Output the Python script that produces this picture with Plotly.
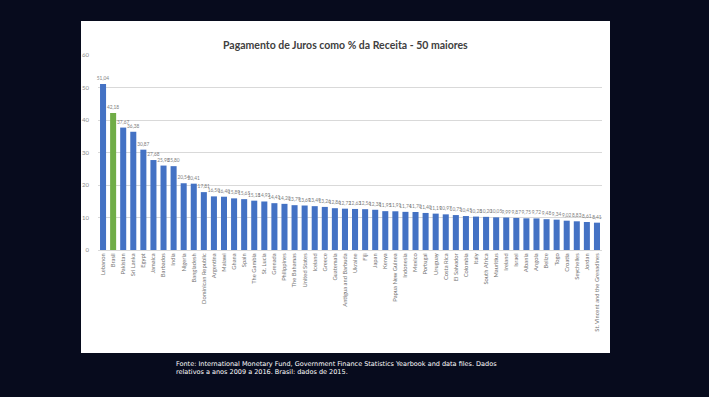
import plotly.graph_objects as go

countries = [
    "Lebanon", "Brasil", "Pakistan", "Sri Lanka", "Egypt", "Jamaica", "Barbados", "India",
    "Nigeria", "Bangladesh", "Dominican Republic", "Argentina", "Malawi", "Ghana", "Spain",
    "The Gambia", "St. Lucia", "Grenada", "Philippines", "The Bahamas", "United States",
    "Iceland", "Greece", "Guatemala", "Antigua and Barbuda", "Ukraine", "Fiji", "Japan",
    "Kenya", "Papua New Guinea", "Indonesia", "Mexico", "Portugal", "Uruguay", "Costa Rica",
    "El Salvador", "Colombia", "Italy", "South Africa", "Mauritius", "Ireland", "Israel",
    "Albania", "Angola", "Belize", "Togo", "Croatia", "Seychelles", "Jordan",
    "St. Vincent and the Grenadines",
]
values = [
    51.04, 42.18, 37.67, 36.38, 30.87, 27.68, 25.98, 25.80,
    20.54, 20.41, 17.81, 16.50, 16.40, 15.89, 15.65,
    15.18, 14.93, 14.41, 14.20, 13.79, 13.69,
    13.49, 13.26, 12.86, 12.72, 12.63, 12.56, 12.38,
    11.95, 11.91, 11.74, 11.70, 11.40, 11.19, 10.97,
    10.75, 10.45, 10.28, 10.20, 10.05, 9.99, 9.87,
    9.75, 9.72, 9.48, 9.34, 9.02, 8.83, 8.61,
    8.41,
]
highlight = "Brasil"
y_ticks = [0, 10, 20, 30, 40, 50, 60]

title_text = "Pagamento de Juros como % da Receita - 50 maiores"
source_text = ("Fonte: International Monetary Fund, Government Finance Statistics Yearbook and data files. Dados<br>"
               "relativos a anos 2009 a 2016. Brasil: dados de 2015.")

W, H = 709, 397
L, R, T, B = 98, 107, 55, 147
pw, ph = W - L - R, H - T - B

colors = ["#70AD47" if c == highlight else "#4472C4" for c in countries]
labels = [f"{v:.2f}".replace(".", ",") for v in values]

fig = go.Figure(go.Bar(
    x=countries, y=values, marker_color=colors, marker_line_width=0,
    text=labels, textposition="outside", constraintext="none", cliponaxis=False,
    textfont=dict(size=4.8, color="#7f7f7f", family="Lato"),
))

def px_x(x):
    return (x - L) / pw

def px_y(y):
    return (H - B - y) / ph

fig.add_shape(type="rect", xref="paper", yref="paper",
              x0=px_x(81), x1=px_x(610), y0=px_y(353), y1=px_y(21),
              fillcolor="white", line_width=0, layer="below")

fig.add_annotation(text="<b>" + title_text + "</b>", xref="paper", yref="paper",
                   x=px_x(345), y=px_y(37), showarrow=False,
                   font=dict(size=10.5, color="#404040", family="Lato"))
fig.add_annotation(text=source_text, xref="paper", yref="paper",
                   x=px_x(174), y=px_y(358), xanchor="left", yanchor="top",
                   align="left", showarrow=False,
                   font=dict(size=6.5, color="white", family="DejaVu Sans"))

fig.update_layout(
    width=W, height=H,
    margin=dict(l=L, r=R, t=T, b=B, pad=0),
    paper_bgcolor="#070b1d", plot_bgcolor="rgba(0,0,0,0)",
    showlegend=False, bargap=0.4,
    font=dict(family="Lato", color="#595959"),
    xaxis=dict(tickangle=-90, tickfont=dict(size=5.8, color="#737373"),
               showgrid=False, showline=True, linecolor="#d9d9d9", ticks=""),
    yaxis=dict(range=[0, 60], tickvals=y_ticks, tickfont=dict(size=6, color="#8c8c8c"),
               showgrid=True, gridcolor="#d9d9d9", gridwidth=1, zeroline=False,
               ticks="", ticklabelstandoff=8),
)

fig.write_html("out.html", config={"displayModeBar": False},
               post_script="document.body.style.margin='0';document.body.style.overflow='hidden';"
                           "document.body.style.background='#070b1d';")
